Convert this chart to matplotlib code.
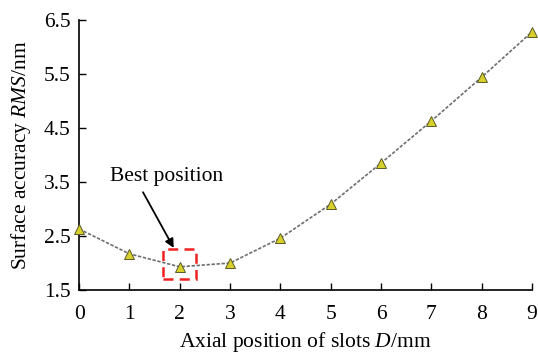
import matplotlib.pyplot as plt
from matplotlib.patches import Rectangle

plt.rcParams['font.family'] = ['Liberation Serif', 'DejaVu Serif']
plt.rcParams['mathtext.fontset'] = 'custom'
plt.rcParams['mathtext.it'] = 'Liberation Serif:italic'
plt.rcParams['mathtext.rm'] = 'Liberation Serif'

# Data
slot_position = [0, 1, 2, 3, 4, 5, 6, 7, 8, 9]
rms_accuracy = [2.63, 2.17, 1.93, 2.00, 2.46, 3.09, 3.85, 4.63, 5.44, 6.28]
y_ticks = [1.5, 2.5, 3.5, 4.5, 5.5, 6.5]

fs = 15.5

fig = plt.figure(figsize=(5.38, 3.55), dpi=100)
ax = fig.add_axes([0.147, 0.183, 0.842, 0.761])

ax.plot(slot_position, rms_accuracy, linestyle=(0, (2, 1)), color='#6e6e6e', lw=1.2,
        marker='^', markersize=6.5, markerfacecolor='#d8d02a', markeredgecolor='#5a5a2a',
        markeredgewidth=0.7, clip_on=False, zorder=5)

# Highlight of the best position
ax.add_patch(Rectangle((1.67, 1.70), 0.66, 0.56, fill=False, edgecolor='#f02020',
                       linestyle=(0, (4, 2.5)), lw=1.8, zorder=4))
ax.text(1.74, 3.60, 'Best position', ha='center', va='center', fontsize=fs)
ax.annotate('', xy=(1.88, 2.28), xytext=(1.27, 3.31),
            arrowprops=dict(arrowstyle='-|>', color='black', lw=1.3,
                            shrinkA=0, shrinkB=0, mutation_scale=13))

ax.set_xlim(0, 9)
ax.set_ylim(1.5, 6.5)
ax.set_xticks(slot_position)
ax.set_yticks(y_ticks)
ax.set_yticklabels([f'{v:.1f}' for v in y_ticks])
ax.tick_params(direction='in', labelsize=fs, length=5, width=1)
ax.tick_params(axis='x', pad=11)
ax.tick_params(axis='y', pad=6)
ax.spines['top'].set_visible(False)
ax.spines['right'].set_visible(False)
ax.spines['left'].set_linewidth(1.2)
ax.spines['bottom'].set_linewidth(1.2)

ax.set_xlabel('Axial position of slots $D$/mm', fontsize=fs, labelpad=4)
ax.set_ylabel('Surface accuracy $RMS$/nm', fontsize=fs, labelpad=8)

fig.savefig('out.png', dpi=100)
